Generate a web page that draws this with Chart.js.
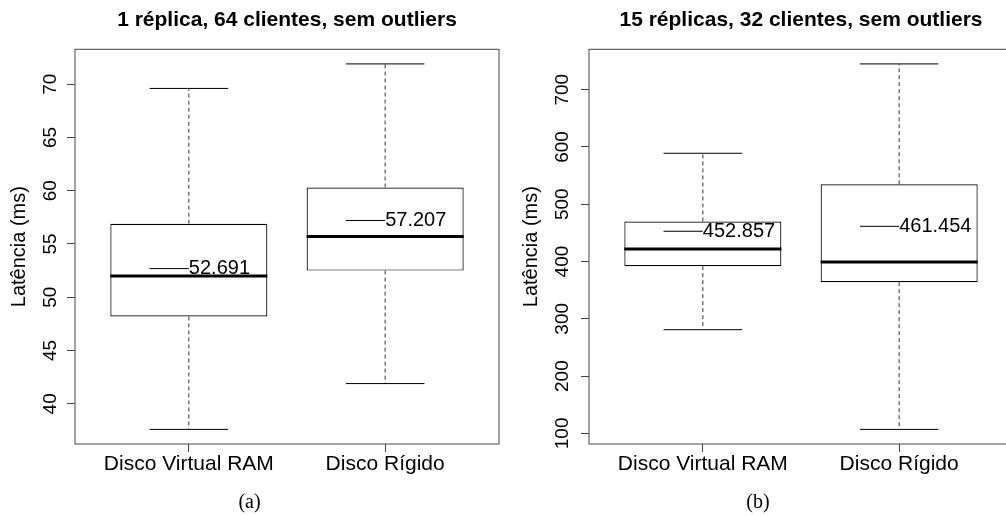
<!DOCTYPE html>
<html>
<head>
<meta charset="utf-8">
<script src="https://cdn.jsdelivr.net/npm/chart.js@4.4.1/dist/chart.umd.min.js"></script>
<style>
  body { margin: 0; background: #fff; overflow: hidden; width: 1006px; height: 516px; position: relative; }
  canvas { position: absolute; top: 0; }
  #left { left: 0; }
  #right { left: 503px; }
</style>
</head>
<body>
<canvas id="left" width="503" height="516"></canvas>
<canvas id="right" width="522" height="516"></canvas>
<script>
var categories = ['Disco Virtual RAM', 'Disco Rígido'];

// (a) 1 réplica, 64 clientes
var lowA  = [37.6, 41.9];
var q1A   = [48.2, 52.5];
var medA  = [52.0, 55.7];
var q3A   = [56.9, 60.3];
var highA = [69.6, 71.9];
var meanA = [52.691, 57.207];
var ticksA = [40, 45, 50, 55, 60, 65, 70];

// (b) 15 réplicas, 32 clientes
var lowB  = [281, 107];
var q1B   = [392, 364];
var medB  = [422, 399];
var q3B   = [470, 535];
var highB = [589, 745];
var meanB = [452.857, 461.454];
var ticksB = [100, 200, 300, 400, 500, 600, 700];

var sans = '"Liberation Sans", Arial, Helvetica, sans-serif';
var serif = '"Liberation Serif", "Times New Roman", serif';

// R extends the data range by 4% on each side
function rRange(lo, hi) {
	var d = (hi - lo) * 0.04;
	return [lo - d, hi + d];
}

function boxChart(id, cfg) {
	var xr = rRange(0.5, categories.length + 0.5);
	var yr = rRange(Math.min.apply(null, cfg.low), Math.max.apply(null, cfg.high));

	var boxplot = {
		id: 'boxplot',
		afterDatasetsDraw: function(chart) {
			var ctx = chart.ctx, xs = chart.scales.x, ys = chart.scales.y, a = chart.chartArea;
			function line(x1, y1, x2, y2) {
				ctx.beginPath(); ctx.moveTo(x1, y1); ctx.lineTo(x2, y2); ctx.stroke();
			}
			ctx.save();
			for (var i = 0; i < categories.length; i++) {
				var c = xs.getPixelForValue(i + 1);
				var h = xs.getPixelForValue(i + 1.2) - c;
				var yLo = ys.getPixelForValue(cfg.low[i]);
				var yQ1 = ys.getPixelForValue(cfg.q1[i]);
				var yMed = ys.getPixelForValue(cfg.med[i]);
				var yQ3 = ys.getPixelForValue(cfg.q3[i]);
				var yHi = ys.getPixelForValue(cfg.high[i]);
				var yMean = ys.getPixelForValue(cfg.mean[i]);

				// whiskers
				ctx.strokeStyle = '#333';
				ctx.lineWidth = 1;
				ctx.setLineDash([4, 3]);
				line(c, yQ3, c, yHi);
				line(c, yQ1, c, yLo);
				ctx.setLineDash([]);
				ctx.strokeStyle = '#000';
				line(c - h, yHi, c + h, yHi);
				line(c - h, yLo, c + h, yLo);

				// median
				ctx.lineWidth = 3;
				line(c - 2 * h, yMed, c + 2 * h, yMed);

				// mean
				ctx.lineWidth = 1;
				line(c - h, yMean, c, yMean);
				ctx.font = '20px ' + sans;
				ctx.fillStyle = '#000';
				ctx.textAlign = 'left';
				ctx.textBaseline = 'middle';
				ctx.fillText(cfg.mean[i].toFixed(3), c, yMean);
			}
			// frame
			ctx.strokeStyle = '#444';
			ctx.lineWidth = 1;
			ctx.strokeRect(a.left, a.top, a.right - a.left, a.bottom - a.top);
			ctx.restore();
		}
	};

	var grid = { offset: false, drawOnChartArea: false, drawTicks: true, tickLength: 8, color: '#444' };

	return new Chart(document.getElementById(id), {
		type: 'bar',
		data: {
			datasets: [{
				data: categories.map(function(c, i) { return { x: i + 1, y: [cfg.q1[i], cfg.q3[i]] }; }),
				backgroundColor: '#fff',
				borderColor: '#000',
				borderWidth: 1.2,
				borderSkipped: false,
				categoryPercentage: 1,
				barPercentage: 0.8
			}]
		},
		options: {
			responsive: false,
			animation: false,
			layout: { padding: { left: 0, right: cfg.padRight, top: 0, bottom: 0 } },
			plugins: {
				legend: { display: false },
				tooltip: { enabled: false },
				title: {
					display: true, text: cfg.title, fullSize: false, color: '#000',
					font: { family: sans, size: 21, weight: 'bold' },
					padding: { top: 7.2, bottom: 16.9 }
				},
				subtitle: {
					display: true, position: 'bottom', text: cfg.caption, color: '#000',
					font: { family: serif, size: 20, weight: 'normal' },
					padding: { top: 0, bottom: 1.7 }
				}
			},
			scales: {
				x: {
					type: 'linear', min: xr[0], max: xr[1], offset: false,
					grid: grid,
					border: { display: false },
					afterBuildTicks: function(s) {
						s.ticks = categories.map(function(c, i) { return { value: i + 1 }; });
					},
					afterFit: function(s) { s.height = 46.3; },
					ticks: {
						autoSkip: false, maxRotation: 0, padding: 0, color: '#000',
						font: { family: sans, size: 21 },
						callback: function(v) { return categories[v - 1]; }
					}
				},
				y: {
					min: yr[0], max: yr[1],
					grid: grid,
					border: { display: false },
					afterBuildTicks: function(s) {
						s.ticks = cfg.ticks.map(function(v) { return { value: v }; });
					},
					afterFit: function(s) { s.width = cfg.axisWidth; },
					title: {
						display: true, text: 'Latência (ms)', color: '#000',
						font: { family: sans, size: 20 },
						padding: { top: cfg.titlePad, bottom: 0 }
					},
					ticks: {
						autoSkip: false, minRotation: 90, maxRotation: 90, crossAlign: 'center',
						padding: cfg.tickPad, color: '#000',
						font: { family: sans, size: 19 }
					}
				}
			}
		},
		plugins: [boxplot]
	});
}

boxChart('left', {
	title: '1 réplica, 64 clientes, sem outliers', caption: '(a)',
	low: lowA, q1: q1A, med: medA, q3: q3A, high: highA, mean: meanA, ticks: ticksA,
	axisWidth: 75, padRight: 4, tickPad: 6, titlePad: 7
});

boxChart('right', {
	title: '15 réplicas, 32 clientes, sem outliers', caption: '(b)',
	low: lowB, q1: q1B, med: medB, q3: q3B, high: highB, mean: meanB, ticks: ticksB,
	axisWidth: 86, padRight: 12, tickPad: 2, titlePad: 16.5
});
</script>
</body>
</html>
